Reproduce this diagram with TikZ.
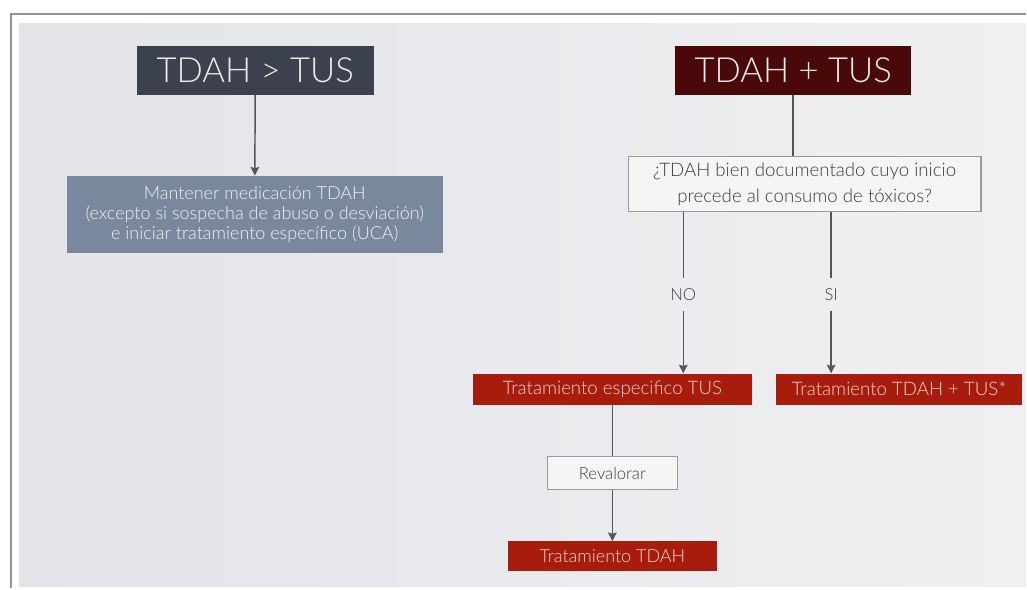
\documentclass[tikz,border=0pt]{standalone}
\usepackage{fontspec}
\setmainfont{Lato}[UprightFont={* Light}]
\usepackage{xcolor}
\usepackage{tikz}
\usetikzlibrary{calc,positioning,arrows.meta,shapes}
\definecolor{slate}{HTML}{3B424D}
\definecolor{maroon}{HTML}{4A0909}
\definecolor{steel}{HTML}{7A889D}
\definecolor{tred}{HTML}{A81C0E}
\definecolor{pinktext}{HTML}{F3D6D0}
\definecolor{linegray}{HTML}{555555}
\definecolor{boxgray}{HTML}{9A9A9A}
\definecolor{darktext}{HTML}{3D3D3D}
\definecolor{bgleft}{HTML}{E2E4E8}
\definecolor{bgright}{HTML}{F0F0F2}
\tikzstyle{title} = [rectangle, inner sep=0pt, minimum height=36.75pt, text centered, text=white!92!black, font=\fontsize{26}{30}\selectfont]
\tikzstyle{element} = [rectangle, inner sep=0pt, text centered, align=center]
\tikzstyle{question} = [element, fill=white!96!black, draw=boxgray, line width=0.9pt, text=darktext]
\tikzstyle{redbox} = [element, fill=tred, text=pinktext, minimum height=23.25pt, font=\fontsize{14}{16}\selectfont]
\tikzstyle{answer} = [inner xsep=2pt, inner ysep=7.5pt, text=darktext, font=\fontsize{12.5}{15}\selectfont]
\tikzstyle{line} = [line width=1.1pt, draw=linegray]
\tikzstyle{arrow} = [line, -{Stealth[length=6.5pt, width=6.5pt, inset=1pt]}]

\begin{document}
\begin{tikzpicture}[x=0.75pt, y=-0.75pt]
	% page and slide
	\fill[white] (0,0) rectangle (1027,589);
	\shade[left color=bgleft, right color=bgright] (19,24) rectangle (1027,587);
	\draw[line width=1.6pt, draw=gray!85] (1027,14) -- (11,14) -- (11,589);
	\useasboundingbox (0,0) rectangle (1027,589);
	
	\node[title, fill=slate, minimum width=177.75pt] (tdahA) at (255.5,70.5) {TDAH > TUS};
	\node[title, fill=maroon, minimum width=177pt] (tdahB) at (794,70.5) {TDAH + TUS};
	
	\node[element, fill=steel, text=white!90!steel, minimum width=282pt, minimum height=57.75pt,
		font=\fontsize{13.5}{15}\selectfont] (keep) at (255,214.5)
		{Mantener medicación TDAH\\(excepto si sospecha de abuso o desviación)\\e iniciar tratamiento específico (UCA)};
	
	\node[question, minimum width=264.75pt, minimum height=41.25pt,
		font=\fontsize{14}{20}\selectfont] (ask) at (805.5,184.5)
		{¿TDAH bien documentado cuyo inicio\\precede al consumo de tóxicos?};
	
	\node[answer] (no) at (684,295) {NO};
	\node[answer] (si) at (832,295) {SI};
	
	\node[redbox, minimum width=210pt] (tus) at (613,389.5) {Tratamiento especifico TUS};
	\node[redbox, minimum width=184.5pt] (both) at (900,389.5) {Tratamiento TDAH + TUS*};
	
	\node[question, minimum width=97.5pt, minimum height=24.75pt,
		font=\fontsize{12.5}{15}\selectfont] (reval) at (613,473.5) {Revalorar};
	\node[redbox, minimum width=156.75pt, minimum height=22.5pt, font=\fontsize{13.5}{16}\selectfont] (tdah) at (613,557) {Tratamiento TDAH};
	
	\draw[arrow] (tdahA) -- (keep);
	\draw[line] (tdahB.south) -- (tdahB.south |- ask.north);
	\draw[line] (no |- ask.south) -- (no);
	\draw[arrow] (no) -- (no |- tus.north);
	\draw[line] (si |- ask.south) -- (si);
	\draw[arrow] (si) -- (si |- both.north);
	\draw[line] (tus) -- (reval);
	\draw[arrow] (reval) -- (tdah);
\end{tikzpicture}
\end{document}
